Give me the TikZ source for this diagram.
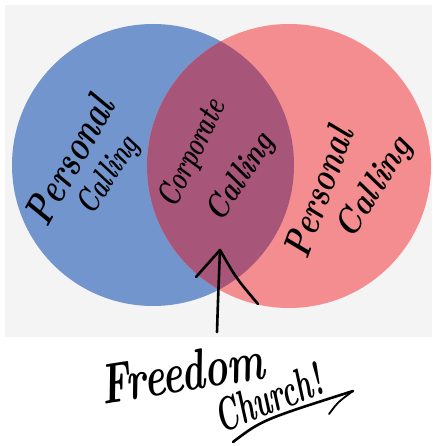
\documentclass[tikz,border=0pt]{standalone}
\usepackage{graphicx}
\definecolor{bgray}{HTML}{F4F4F4}
\definecolor{cblue}{HTML}{7395CE}
\definecolor{cred}{HTML}{F38D8F}
\definecolor{cmix}{HTML}{A8557A}
\newcommand\hwfont{\bfseries\itshape}
\newcommand\hwtext[3]{\resizebox*{#1bp}{#2bp}{\hwfont #3}}
\tikzset{
  hand/.style={inner sep=0pt, text=black},
  pen/.style={line width=2.6bp, line cap=round, line join=round, black}
}
\begin{document}
\begin{tikzpicture}[x=1bp,y=-1bp]
\useasboundingbox (0,0) rectangle (432,446);
\fill[white] (0,0) rectangle (432,446);
\fill[bgray] (5,5) rectangle (432,337);
% circles
\fill[cblue] (153,165) circle[radius=141];
\fill[cred] (289,166) circle[radius=142];
\begin{scope}
  \clip (153,165) circle[radius=141];
  \fill[cmix] (289,166) circle[radius=142];
\end{scope}
% labels
\node[hand, rotate=61] (pl) at (69,160) {\hwtext{140}{30}{Personal}};
\node[hand, rotate=57] (cl) at (109,176) {\hwtext{86}{30}{Calling}};
\node[hand, rotate=64] (pc) at (193,154) {\hwtext{116}{30}{Corporate}};
\node[hand, rotate=57] (cc) at (241,178) {\hwtext{98}{30}{Calling}};
\node[hand, rotate=70] (pr) at (318,192) {\hwtext{136}{28}{Personal}};
\node[hand, rotate=58] (cr) at (375,188) {\hwtext{112}{32}{Calling}};
\node[hand, rotate=9] (fr) at (182,372) {\hwtext{165}{40}{Freedom}};
\node[hand, rotate=21] (ch) at (268,398) {\hwtext{112}{34}{Church!}};
% arrow into the overlap
\coordinate (tail) at (217,332);
\coordinate (tip) at (220,250);
\coordinate (larm) at (196,277);
\coordinate (rarm) at (258,304);
\draw[pen] (tail) .. controls (218,300) .. (tip);
\draw[pen] (larm) -- (tip);
\draw[pen] (tip) .. controls (236,278) .. (rarm);
% swoosh under Church!
\coordinate (s0) at (233,442);
\coordinate (s1) at (353,391);
\coordinate (s2) at (329,414);
\draw[pen] (s0) .. controls (262,420) .. (s1);
\draw[pen, line width=1.8bp] (s1) .. controls (338,402) .. (s2);
\end{tikzpicture}
\end{document}
